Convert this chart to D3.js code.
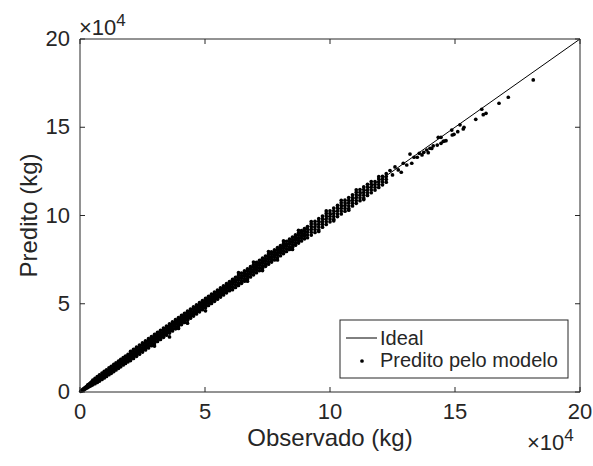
<!DOCTYPE html>
<html><head><meta charset="utf-8">
<script src="https://cdn.jsdelivr.net/npm/d3@7"></script>
<style>
body{margin:0;background:#fff}
svg{display:block}
text{font-family:"Liberation Sans",Arial,Helvetica,sans-serif;fill:#262626}
</style>
</head><body><div id="chart"></div>
<script>
// Values in units of 10^4 kg (axes show ×10^4)
const xTicks = [0, 5, 10, 15, 20];
const yTicks = [0, 5, 10, 15, 20];
const idealObservado = [0, 20];
const idealPredito = [0, 20];
const legendLabels = ["Ideal", "Predito pelo modelo"];
const xLabel = "Observado (kg)";
const yLabel = "Predito (kg)";

// Observed value of each column of points, and the predicted values read at that observed value
const observado = [
 0.03,0.07,0.11,0.15,0.19,0.23,0.27,0.31,0.35,0.39,0.43,0.47,
 0.51,0.6,0.69,0.78,0.88,0.97,1.06,1.16,1.25,1.35,1.44,1.54,1.63,1.73,1.82,1.92,
 2.02,2.14,2.26,2.38,2.5,2.62,2.74,2.86,2.98,3.1,3.22,3.34,3.46,3.58,3.7,3.82,3.94,4.06,4.18,4.3,4.42,4.54,4.66,4.78,4.9,5.02,5.14,5.26,5.38,5.5,5.62,5.74,5.86,5.98,
 6.1,6.22,6.34,6.46,6.58,6.7,6.82,6.94,7.06,7.18,7.3,7.42,7.54,7.66,7.78,7.9,8.02,8.14,8.26,8.38,8.5,8.62,8.74,8.86,8.98,
 9.1,9.25,9.4,9.55,9.7,9.85,10.0,10.15,10.3,10.45,10.6,10.75,10.9,11.05,11.2,11.35,11.5,11.65,11.8,11.95,12.1,12.25,
 12.4,12.5,12.6,12.73,12.85,12.93,13.07,13.2,13.27,13.36,13.49,13.57,13.68,13.75,13.87,13.93,14.0,14.07,14.13,14.29,14.33,14.44,14.53,14.57,14.64,14.87,14.89,14.96,15.11,15.2,15.33,15.36,15.83,16.07,16.13,16.24,16.76,17.13,18.13
];
const predito = [
 [0.04],[0.06,0.1],[0.09,0.15],[0.13,0.19],[0.16,0.24],[0.2,0.28],[0.23,0.32],[0.26,0.35,0.4],[0.3,0.38,0.44],[0.33,0.42,0.48],[0.36,0.46,0.53],[0.39,0.5,0.58],
 [0.41,0.5,0.59,0.67],[0.47,0.58,0.67,0.77],[0.54,0.66,0.77,0.87],[0.62,0.75,0.87,0.97],[0.71,0.84,0.96,1.07],[0.8,0.93,1.05,1.17],[0.88,1.02,1.14,1.26],[0.98,1.11,1.24,1.37],[1.06,1.21,1.33,1.46],[1.16,1.3,1.43,1.56],[1.25,1.39,1.52,1.65],[1.34,1.49,1.62,1.75],[1.43,1.58,1.71,1.85],[1.53,1.67,1.81,1.95],[1.62,1.76,1.9,2.04],[1.71,1.86,1.99,2.13],
 [1.78,1.91,2.04,2.17,2.3],[1.9,2.03,2.16,2.29,2.42],[2.02,2.15,2.28,2.41,2.54],[2.14,2.27,2.4,2.53,2.66],[2.26,2.39,2.52,2.65,2.78],[2.38,2.51,2.64,2.77,2.9],[2.5,2.63,2.76,2.89,3.02],[2.62,2.75,2.88,3.01,3.14],[2.6,2.74,2.87,3.0,3.13,3.26],[2.86,2.99,3.12,3.25,3.38],[2.98,3.11,3.24,3.37,3.5],[3.1,3.23,3.36,3.49,3.62],[3.22,3.35,3.48,3.61,3.74],[3.12,3.34,3.47,3.6,3.73,3.86],[3.46,3.59,3.72,3.85,3.98],[3.58,3.71,3.84,3.97,4.1],[3.6,3.7,3.83,3.96,4.09,4.22],[3.82,3.95,4.08,4.21,4.34],[3.94,4.07,4.2,4.33,4.46],[3.9,4.06,4.19,4.32,4.45,4.58],[4.18,4.31,4.44,4.57,4.7],[4.3,4.43,4.56,4.69,4.82],[4.42,4.55,4.68,4.81,4.94],[4.54,4.67,4.8,4.93,5.06],[4.66,4.79,4.92,5.05,5.18],[4.6,4.78,4.91,5.04,5.17,5.3],[4.9,5.03,5.16,5.29,5.42],[5.02,5.15,5.28,5.41,5.54],[5.14,5.27,5.4,5.53,5.66],[5.26,5.39,5.52,5.65,5.78],[5.38,5.51,5.64,5.77,5.9],[5.5,5.63,5.76,5.89,6.02],[5.62,5.75,5.88,6.01,6.14],[5.74,5.87,6.0,6.13,6.26],
 [5.8,5.95,6.1,6.24,6.38],[5.92,6.07,6.22,6.36,6.5],[6.04,6.19,6.34,6.48,6.62,6.76],[6.16,6.31,6.46,6.6,6.74],[6.28,6.43,6.58,6.72,6.86],[6.28,6.4,6.55,6.7,6.84,6.98],[6.52,6.67,6.82,6.96,7.1],[6.64,6.79,6.94,7.08,7.22,7.36],[6.76,6.91,7.06,7.2,7.34],[6.88,7.03,7.18,7.32,7.46],[6.88,7.0,7.15,7.3,7.44,7.58],[7.12,7.27,7.42,7.56,7.7],[7.24,7.39,7.54,7.68,7.82,7.96],[7.36,7.51,7.66,7.8,7.94],[7.48,7.63,7.78,7.92,8.06],[7.48,7.6,7.75,7.9,8.04,8.18],[7.72,7.87,8.02,8.16,8.3],[7.84,7.99,8.14,8.28,8.42,8.56],[7.96,8.11,8.26,8.4,8.54],[8.08,8.23,8.38,8.52,8.66],[8.08,8.2,8.35,8.5,8.64,8.78],[8.32,8.47,8.62,8.76,8.9],[8.44,8.59,8.74,8.88,9.02,9.16],[8.56,8.71,8.86,9.0,9.14],[8.68,8.83,8.98,9.12,9.26],
 [8.74,8.9,9.06,9.22,9.37],[8.89,9.05,9.21,9.37,9.52,9.66],[9.04,9.2,9.36,9.52,9.67],[9.1,9.19,9.35,9.51,9.67,9.82],[9.34,9.5,9.66,9.82,9.97],[9.49,9.65,9.81,9.97,10.12,10.26],[9.64,9.8,9.96,10.12,10.27],[9.7,9.79,9.95,10.11,10.27,10.42],[9.94,10.1,10.26,10.42,10.57],[10.09,10.25,10.41,10.57,10.72,10.86],[10.24,10.4,10.56,10.72,10.87],[10.3,10.39,10.55,10.71,10.87,11.02],[10.54,10.7,10.86,11.02,11.17],[10.69,10.85,11.01,11.17,11.32,11.46],[10.84,11.0,11.16,11.32,11.47],[10.9,10.99,11.15,11.31,11.47,11.62],[11.14,11.3,11.46,11.62,11.77],[11.29,11.45,11.61,11.77,11.92],[11.44,11.6,11.76,11.92],[11.59,11.75,11.91,12.07,12.2],[11.74,11.9,12.06,12.22],[11.89,12.05,12.21,12.37],
 [12.55],[12.3],[12.75],[12.58],[12.45],[12.96],[12.86],[13.48],[12.96],[13.3],[13.3],[13.52],[13.43],[13.58],[13.71],[13.56],[13.81],[13.8],[13.95],[13.99],[14.43],[14.09,14.43],[14.2],[14.22],[14.24],[14.84],[14.56],[14.6],[14.75],[15.14],[14.9],[15.0],[15.45],[16.02],[15.71],[15.79],[16.36],[16.7],[17.68]
];

const W = 593, H = 466;
const svg = d3.select("#chart").append("svg").attr("width", W).attr("height", H);
const x = d3.scaleLinear().domain([0, 20]).range([80, 580]);
const y = d3.scaleLinear().domain([0, 20]).range([392, 39]);

// Ideal line
const line = d3.line().x(d => x(d[0])).y(d => y(d[1]));
svg.append("path").datum(idealObservado.map((v, i) => [v, idealPredito[i]]))
  .attr("d", line).attr("fill", "none").attr("stroke", "#000").attr("stroke-width", 1);

// Points
const points = observado.flatMap((o, i) => predito[i].map(p => ({o, p})));
svg.append("g").selectAll("circle").data(points).join("circle")
  .attr("cx", d => x(d.o)).attr("cy", d => y(d.p)).attr("r", 1.85).attr("fill", "#000");

// Axes (box with inward ticks)
function styleAxis(g){
  g.selectAll(".domain").attr("stroke", "#262626").attr("stroke-width", 1);
  g.selectAll(".tick line").attr("stroke", "#262626").attr("stroke-width", 1);
  g.selectAll(".tick text").attr("fill", "#262626").style("font-size", "22px")
   .style("font-family", '"Liberation Sans",Arial,sans-serif');
}
svg.append("g").attr("transform", "translate(0,392)")
  .call(d3.axisBottom(x).tickValues(xTicks).tickSizeInner(-5).tickSizeOuter(0).tickPadding(11).tickFormat(d3.format("d")).offset(0))
  .call(styleAxis);
svg.append("g").attr("transform", "translate(0,39)")
  .call(d3.axisTop(x).tickValues(xTicks).tickSizeInner(-5).tickSizeOuter(0).tickFormat(() => "").offset(0))
  .call(styleAxis);
svg.append("g").attr("transform", "translate(80,0)")
  .call(d3.axisLeft(y).tickValues(yTicks).tickSizeInner(-5).tickSizeOuter(0).tickPadding(10).tickFormat(d3.format("d")).offset(0))
  .call(styleAxis);
svg.append("g").attr("transform", "translate(580,0)")
  .call(d3.axisRight(y).tickValues(yTicks).tickSizeInner(-5).tickSizeOuter(0).tickFormat(() => "").offset(0))
  .call(styleAxis);

// Exponent labels
function expo(xp, yp){
  const t = svg.append("text").attr("x", xp).attr("y", yp).style("font-size", "22px");
  t.append("tspan").text("×10");
  t.append("tspan").attr("dy", -9).style("font-size", "17px").text("4");
}
expo(79, 35);
expo(527, 450);

// Axis labels
svg.append("text").attr("x", 330).attr("y", 446).attr("text-anchor", "middle")
  .style("font-size", "24px").text(xLabel);
svg.append("text").attr("transform", "translate(37,215.5) rotate(-90)").attr("text-anchor", "middle")
  .style("font-size", "24px").text(yLabel);

// Legend
const lg = svg.append("g");
lg.append("rect").attr("x", 340).attr("y", 320).attr("width", 228).attr("height", 58)
  .attr("fill", "#fff").attr("stroke", "#262626").attr("stroke-width", 1);
lg.append("line").attr("x1", 346).attr("x2", 377).attr("y1", 338).attr("y2", 338)
  .attr("stroke", "#000").attr("stroke-width", 1);
lg.append("circle").attr("cx", 362).attr("cy", 361).attr("r", 1.85).attr("fill", "#000");
lg.selectAll("text.lab").data(legendLabels).join("text").attr("class", "lab")
  .attr("x", 380).attr("y", (d, i) => 345 + i * 22).style("font-size", "20px").text(d => d);
</script>
</body></html>
